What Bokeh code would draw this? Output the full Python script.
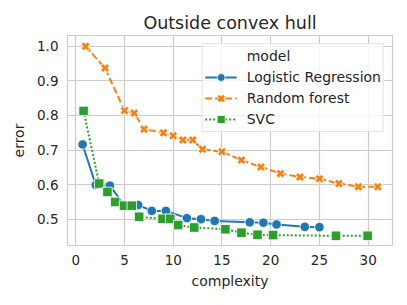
from bokeh.plotting import figure
from bokeh.models import Range1d, Legend, LegendItem, ColumnDataSource, FixedTicker, NumeralTickFormatter
from bokeh.embed import file_html
from bokeh.resources import INLINE

title = "Outside convex hull"
x_label = "complexity"
y_label = "error"
legend_title = "model"

lr_name = "Logistic Regression"
lr_x = [0.7, 2.05, 3.5, 4.95, 6.4, 7.8, 9.25, 11.4, 12.85, 14.25, 17.85, 19.25, 20.6, 23.5, 25.0]
lr_y = [0.716, 0.599, 0.597, 0.541, 0.541, 0.524, 0.524, 0.503, 0.500, 0.495, 0.491, 0.490, 0.485, 0.478, 0.477]

rf_name = "Random forest"
rf_x = [1, 3, 5, 6, 7, 9, 10, 11, 12, 13, 15, 17, 19, 21, 23, 25, 27, 29, 31]
rf_y = [1.0, 0.937, 0.814, 0.807, 0.760, 0.750, 0.741, 0.729, 0.729, 0.702, 0.695, 0.671,
        0.651, 0.632, 0.622, 0.617, 0.603, 0.594, 0.594]

svc_name = "SVC"
svc_x = [0.8, 2.4, 3.25, 4.05, 4.95, 5.75, 6.5, 8.9, 9.7, 10.5, 12.15, 15.35, 17.0, 18.65, 20.25, 26.7, 29.95]
svc_y = [0.813, 0.603, 0.579, 0.550, 0.539, 0.539, 0.507, 0.501, 0.501, 0.483, 0.476, 0.471,
         0.461, 0.455, 0.454, 0.452, 0.452]

x_ticks = [0, 5, 10, 15, 20, 25, 30]
y_ticks = [0.5, 0.6, 0.7, 0.8, 0.9, 1.0]

FONT = "DejaVu Sans"
TXT = "#262626"
GRID = "#cccccc"

p = figure(width=399, height=297, output_backend="svg", toolbar_location=None,
           x_range=Range1d(-0.85, 32.5), y_range=Range1d(0.424, 1.031),
           min_border_left=67, min_border_right=7, min_border_top=35, min_border_bottom=52)

p.title.text = title
p.title.align = "center"
p.title.text_font = FONT
p.title.text_font_size = "17.5px"
p.title.text_font_style = "normal"
p.title.text_color = TXT
p.title.offset = 0
p.title.standoff = 5

p.outline_line_color = GRID
p.outline_line_width = 1.2
p.background_fill_color = "white"

for ax in (p.xaxis[0], p.yaxis[0]):
    ax.axis_line_color = None
    ax.major_tick_line_color = None
    ax.minor_tick_line_color = None
    ax.major_tick_out = 0
    ax.major_tick_in = 0
    ax.major_label_text_font = FONT
    ax.major_label_text_font_size = "13.5px"
    ax.major_label_text_color = TXT
    ax.axis_label_text_font = FONT
    ax.axis_label_text_font_size = "14px"
    ax.axis_label_text_font_style = "normal"
    ax.axis_label_text_color = TXT

p.xaxis[0].ticker = FixedTicker(ticks=x_ticks)
p.yaxis[0].ticker = FixedTicker(ticks=y_ticks)
p.yaxis[0].formatter = NumeralTickFormatter(format="0.0")
p.xaxis[0].axis_label = x_label
p.yaxis[0].axis_label = y_label
p.xaxis[0].major_label_standoff = 9
p.yaxis[0].major_label_standoff = 9
p.xaxis[0].axis_label_standoff = 5
p.yaxis[0].axis_label_standoff = 7

p.xgrid.grid_line_color = GRID
p.ygrid.grid_line_color = GRID
p.xgrid.grid_line_width = 1.2
p.ygrid.grid_line_width = 1.2

BLUE = "#1f77b4"
ORANGE = "#ff7f0e"
GREEN = "#2ca02c"

lr_src = ColumnDataSource(dict(x=lr_x, y=lr_y))
rf_src = ColumnDataSource(dict(x=rf_x, y=rf_y))
svc_src = ColumnDataSource(dict(x=svc_x, y=svc_y))

lr_l = p.line("x", "y", source=lr_src, line_color=BLUE, line_width=2)
lr_m = p.scatter("x", "y", source=lr_src, marker="circle", size=9.5, fill_color=BLUE,
                 line_color="white", line_width=0.8)

rf_l = p.line("x", "y", source=rf_src, line_color=ORANGE, line_width=2, line_dash="7 3")
rf_w = p.scatter("x", "y", source=rf_src, marker="x", size=10, line_color="white", line_width=4.5)
rf_m = p.scatter("x", "y", source=rf_src, marker="x", size=8.5, line_color=ORANGE, line_width=2.8)

svc_l = p.line("x", "y", source=svc_src, line_color=GREEN, line_width=2, line_dash="2 2")
svc_m = p.scatter("x", "y", source=svc_src, marker="square", size=9.5, fill_color=GREEN,
                  line_color="white", line_width=0.8)

dummy = p.scatter(x=[], y=[], marker="circle", size=1, fill_alpha=0, line_alpha=0)

legend = Legend(items=[
    LegendItem(label=legend_title, renderers=[dummy]),
    LegendItem(label=lr_name, renderers=[lr_l, lr_m]),
    LegendItem(label=rf_name, renderers=[rf_l, rf_w, rf_m]),
    LegendItem(label=svc_name, renderers=[svc_l, svc_m]),
])
legend.location = "top_right"
legend.label_text_font = FONT
legend.label_text_font_size = "14px"
legend.label_text_color = TXT
legend.glyph_width = 32
legend.glyph_height = 20
legend.label_height = 20
legend.spacing = 1
legend.label_standoff = 10
legend.padding = 2
legend.margin = 8
legend.border_line_color = GRID
legend.border_line_width = 1.2
legend.background_fill_alpha = 0.8
p.add_layout(legend)

open("out.html", "w").write(file_html(p, INLINE))
